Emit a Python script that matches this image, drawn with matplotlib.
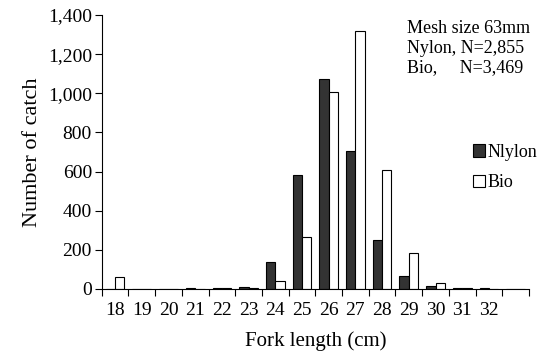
import numpy as np
import matplotlib
matplotlib.use('Agg')
import matplotlib.pyplot as plt

plt.rcParams['font.family'] = ['Liberation Serif', 'DejaVu Serif']

# Données
lengths = ['18', '19', '20', '21', '22', '23', '24', '25', '26', '27', '28', '29', '30', '31', '32', '']
nylon = [0, 0, 0, 3, 3, 10, 140, 583, 1073, 707, 250, 65, 15, 3, 3, 0]
bio = [63, 0, 0, 0, 3, 5, 41, 264, 1008, 1318, 608, 182, 29, 3, 0, 0]

fig = plt.figure(figsize=(5.49, 3.59), dpi=100)
ax = fig.add_axes([0.1852, 0.195, 0.7784, 0.763])

x = np.arange(len(lengths))
w = 0.35
ax.bar(x - w / 2, nylon, w, color='#333333', edgecolor='black', linewidth=0.8, label='Nlylon')
ax.bar(x + w / 2, bio, w, color='white', edgecolor='black', linewidth=0.8, label='Bio')

ax.set_xlim(-0.5, len(lengths) - 0.5)
ax.set_ylim(0, 1400)
ax.set_yticks(np.arange(0, 1401, 200))
ax.set_yticklabels([f'{v:,}' for v in range(0, 1401, 200)])

# ticks aux limites des classes, étiquettes au centre
ax.set_xticks(np.arange(-0.5, len(lengths)), minor=False)
ax.set_xticklabels([])
ax.set_xticks(x, minor=True)
ax.set_xticklabels(lengths, minor=True)
ax.tick_params(axis='x', which='minor', length=0, pad=9.5, labelsize=14)
ax.tick_params(axis='x', which='major', length=5, direction='out')
ax.tick_params(axis='y', length=5, direction='out', labelsize=14, pad=2)

for s in ['top', 'right']:
    ax.spines[s].set_visible(False)

ax.set_xlabel('Fork length (cm)', fontsize=15, labelpad=9)
ax.set_ylabel('Number of catch', fontsize=16, labelpad=4)

ax.text(0.714, 0.982, 'Mesh size 63mm\nNylon, N=2,855\nBio,     N=3,469',
        transform=ax.transAxes, fontsize=13, va='top', ha='left', linespacing=1.2)

ax.legend(loc='upper left', bbox_to_anchor=(0.868, 0.53), frameon=False, fontsize=13,
          handlelength=0.67, handleheight=0.67, handletextpad=0.15, labelspacing=0.74,
          borderaxespad=0, borderpad=0)

fig.savefig('out.png', dpi=100)
